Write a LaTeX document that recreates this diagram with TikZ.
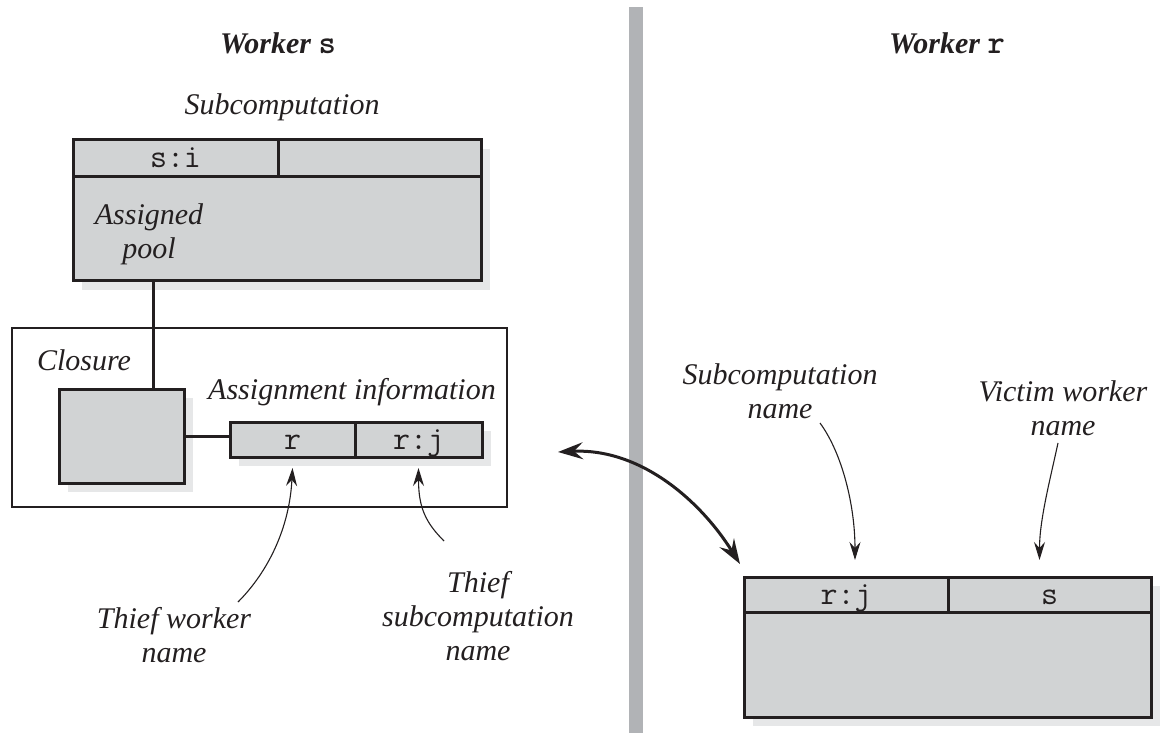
\documentclass[tikz,border=0pt]{standalone}
\usepackage{fontspec}
\setmainfont{Liberation Serif}
\usepackage{tikz}
\usetikzlibrary{arrows.meta, backgrounds, calc, positioning}
\definecolor{wsBox}{HTML}{D1D3D4}
\definecolor{wsShadow}{HTML}{E6E7E8}
\definecolor{wsBar}{HTML}{B1B3B6}
\definecolor{wsInk}{HTML}{231F20}

\begin{document}
\begin{tikzpicture}[x=1pt, y=-1pt,
    cell/.style={draw=wsInk, fill=wsBox, text=wsInk, line width=3pt, outer sep=0pt, inner sep=0pt,
        anchor=north west, text height=22pt, text depth=3pt, font=\fontsize{33}{36}\selectfont\ttfamily},
    caption/.style={text=wsInk, align=center, inner sep=0pt, font=\fontsize{30}{34}\selectfont\itshape},
    heading/.style={caption, font=\fontsize{30}{34}\selectfont\bfseries\itshape},
    wire/.style={draw=wsInk, line width=3pt},
    pointer/.style={draw=wsInk, line width=1.1pt, -{Stealth[length=18pt, width=11pt, inset=6pt]}},
    link/.style={draw=wsInk, line width=3pt,
        {Stealth[length=25pt, width=17pt, inset=9pt]}-{Stealth[length=25pt, width=17pt, inset=9pt]}}]
    \useasboundingbox (0,0) rectangle (1160,738);

    % the two workers
    \fill[wsBar] (629,7) rectangle (643,733);
    \node[heading] (workerS) at (278,43) {Worker \texttt{\upshape\fontsize{33}{34}\selectfont s}};
    \node[heading] (workerR) at (947,43) {Worker \texttt{\upshape\fontsize{33}{34}\selectfont r}};

    % worker s: subcomputation
    \node[caption] (subLabel) at (282,107) {Subcomputation};
    \node[cell, minimum width=205pt, minimum height=37pt] (si) at (73,140) {s:i};
    \node[cell, minimum width=203pt, minimum height=37pt] (siRest) at (si.north east) {};
    \node[cell, minimum width=408pt, minimum height=104pt] (pool) at (si.south west) {};
    \node[caption] (poolLabel) at (149,234) {Assigned\\pool};

    % worker s: closure
    \node[draw=wsInk, line width=1.2pt, inner sep=0pt, outer sep=0pt, anchor=north west,
        minimum width=495pt, minimum height=179pt] (closureFrame) at (12,328) {};
    \node[caption] (closureLabel) at (84,360) {Closure};
    \node[cell, minimum width=125pt, minimum height=94pt] (closure) at (59,389) {};
    \node[caption] (infoLabel) at (352,392) {Assignment information};
    \node[cell, minimum width=125pt, minimum height=35pt] (thiefW) at (230,422) {r};
    \node[cell, minimum width=127pt, minimum height=35pt] (thiefC) at (thiefW.north east) {r:j};
    \draw[wire] ($(closure.north west)+(94,0)$) -- ($(closure.north west |- pool.south)+(94,0)$);
    \draw[wire] (closure.east) -- (closure.east -| thiefW.west);

    \node[caption] (thiefWName) at (174,635) {Thief worker\\name};
    \node[caption] (thiefCName) at (478,616) {Thief\\subcomputation\\name};
    \coordinate (thiefWTail) at (238,602);
    \coordinate (thiefCTail) at (444,541);
    \draw[pointer] (thiefWTail) .. controls +(30,-30) and +(-3,60) .. ($(thiefW.south)+(0,11)$);
    \draw[pointer] (thiefCTail) .. controls +(-18,-18) and +(0,40) .. ($(thiefC.south)+(0,11)$);

    % worker r: stolen subcomputation
    \node[caption] (subName) at (780,391) {Subcomputation\\name};
    \node[caption] (victimName) at (1063,408) {Victim worker\\name};
    \node[cell, minimum width=204pt, minimum height=35pt] (stolenSub) at (744,577) {r:j};
    \node[cell, minimum width=203pt, minimum height=35pt] (victim) at (stolenSub.north east) {s};
    \node[cell, minimum width=407pt, minimum height=105pt] (stolenPool) at (stolenSub.south west) {};
    \coordinate (subNameTail) at (820,423);
    \coordinate (victimTail) at (1058,443);
    \draw[pointer] (subNameTail) .. controls +(22,30) and +(0,-55) .. ($(stolenSub.north)+(9,-17)$);
    \draw[pointer] (victimTail) .. controls +(-8,37) and +(0,-40) .. ($(victim.north)+(-10,-17)$);

    % exchange between the workers
    \coordinate (linkS) at (558,452);
    \coordinate (linkR) at (740,564);
    \draw[link] (linkS) .. controls (640,448) and (700,500) .. (linkR);

    % shadows
    \begin{scope}[on background layer]
        \fill[wsShadow] ($(si.north west)+(9,9)$) rectangle ($(pool.south east)+(9,9)$);
        \fill[wsShadow] ($(closure.north west)+(9,9)$) rectangle ($(closure.south east)+(9,9)$);
        \fill[wsShadow] ($(thiefW.north west)+(9,9)$) rectangle ($(thiefC.south east)+(9,9)$);
        \fill[wsShadow] ($(stolenSub.north west)+(9,9)$) rectangle ($(stolenPool.south east)+(9,9)$);
    \end{scope}
\end{tikzpicture}
\end{document}
